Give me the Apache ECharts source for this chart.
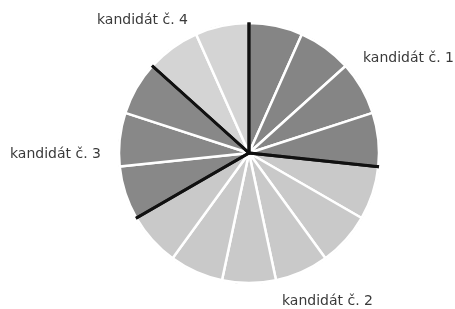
<!DOCTYPE html>
<html>
<head>
<meta charset="utf-8">
<script src="https://cdn.jsdelivr.net/npm/echarts@6/dist/echarts.min.js"></script>
<style>
html,body{margin:0;padding:0;background:#fff;}
#chart{width:455px;height:309px;}
</style>
</head>
<body>
<div id="chart"></div>
<script>
// Data
var candidates = ['kandidát č. 1', 'kandidát č. 2', 'kandidát č. 3', 'kandidát č. 4'];
var votes = [4, 6, 3, 2];

// Styles
var groupColors = ['#858585', '#c9c9c9', '#888888', '#d4d4d4'];
var labelPos = [
  {x: 363, y: 58},
  {x: 282, y: 301},
  {x: 10, y: 154},
  {x: 97, y: 20}
];
var center = [249, 153];
var R = 130;

// one slice per vote
var slices = [];
candidates.forEach(function (c, i) {
  for (var k = 0; k < votes[i]; k++) {
    slices.push({value: 1, name: c + ' #' + (k + 1), itemStyle: {color: groupColors[i]}});
  }
});

var chart = echarts.init(document.getElementById('chart'), null, {renderer: 'canvas'});
chart.setOption({
  animation: false,
  backgroundColor: '#ffffff',
  series: [
    {
      type: 'pie',
      silent: true,
      center: center,
      radius: [0, R],
      startAngle: 90,
      clockwise: true,
      label: {show: false},
      labelLine: {show: false},
      itemStyle: {borderColor: '#ffffff', borderWidth: 2.5},
      data: slices,
      z: 1
    },
    {
      type: 'pie',
      silent: true,
      center: center,
      radius: [0, R + 3],
      startAngle: 90,
      clockwise: true,
      itemStyle: {color: 'rgba(0,0,0,0)', borderColor: '#111111', borderWidth: 3},
      label: {
        show: true,
        position: 'outside',
        formatter: '{b}',
        overflow: 'none',
        fontFamily: 'DejaVu Sans',
        fontSize: 14,
        color: '#3a3a3a'
      },
      labelLine: {show: false},
      labelLayout: function (p) {
        var pos = labelPos[p.dataIndex];
        return {x: pos.x, y: pos.y, align: 'left', verticalAlign: 'middle', moveOverlap: false, hideOverlap: false};
      },
      data: candidates.map(function (c, i) { return {name: c, value: votes[i]}; }),
      z: 2
    },
    {
      type: 'pie',
      silent: true,
      center: center,
      radius: [R + 0.8, R + 9],
      label: {show: false},
      labelLine: {show: false},
      itemStyle: {color: '#ffffff'},
      data: [{value: 1, name: 'edge'}],
      z: 3
    }
  ]
});
</script>
</body>
</html>
